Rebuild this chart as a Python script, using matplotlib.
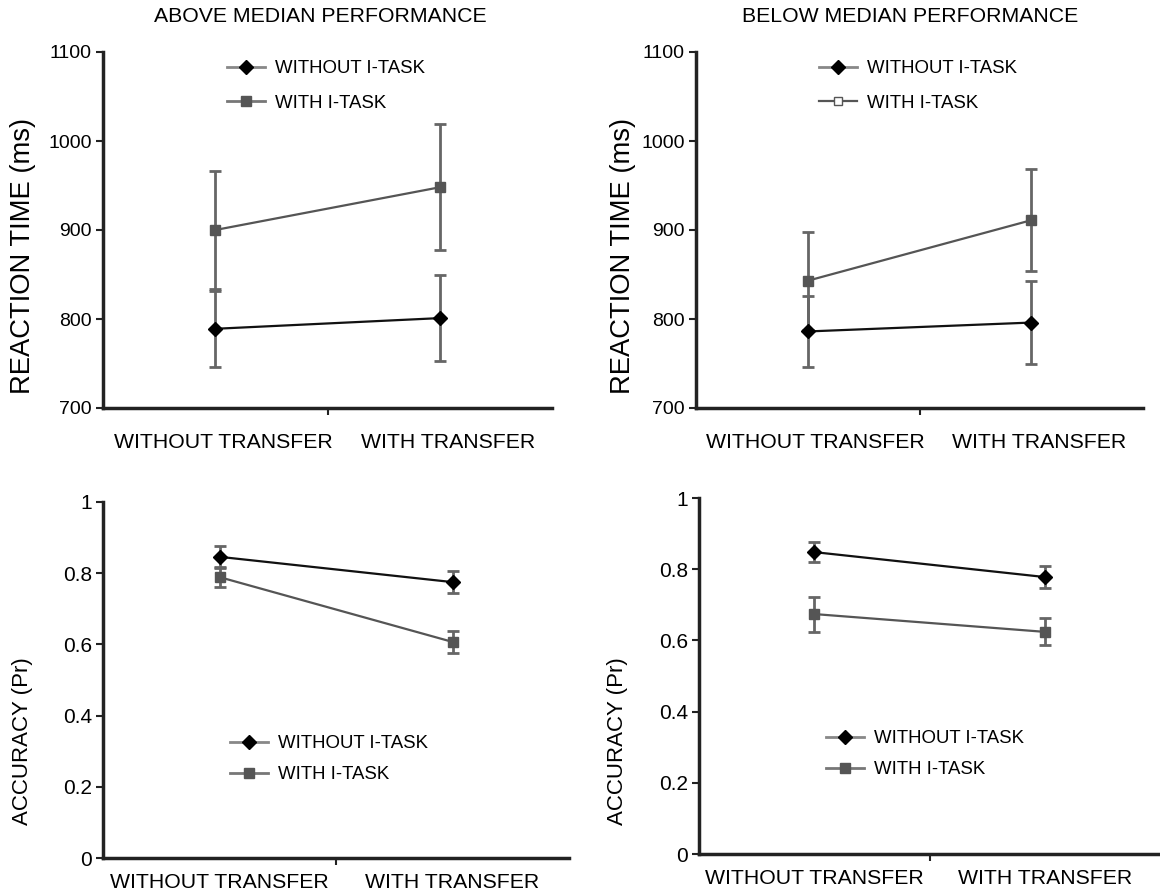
import matplotlib
matplotlib.use("Agg")
import matplotlib.pyplot as plt
from matplotlib.lines import Line2D
from matplotlib.transforms import ScaledTranslation

plt.rcParams['font.family'] = ['Liberation Sans', 'DejaVu Sans']

conditions = ["WITHOUT TRANSFER", "WITH TRANSFER"]
series_names = ["WITHOUT I-TASK", "WITH I-TASK"]

# reaction time (ms)
rt_above_without = [789, 801]
rt_above_without_err = [43, 48]
rt_above_with = [900, 948]
rt_above_with_err = [66, 71]
rt_below_without = [786, 796]
rt_below_without_err = [40, 47]
rt_below_with = [843, 911]
rt_below_with_err = [55, 57]

# accuracy (Pr)
acc_above_without = [0.846, 0.775]
acc_above_without_err = [0.030, 0.032]
acc_above_with = [0.789, 0.607]
acc_above_with_err = [0.028, 0.030]
acc_below_without = [0.848, 0.778]
acc_below_without_err = [0.028, 0.032]
acc_below_with = [0.674, 0.624]
acc_below_with_err = [0.049, 0.038]

W, H = 1160, 894
fig = plt.figure(figsize=(W / 100, H / 100), dpi=100)

TITLE_FS = 15.3
XLAB_FS = 15.3
LEG_FS = 13.4


def add_ax(left, right, top, bottom):
    return fig.add_axes([left / W, 1 - bottom / H, (right - left) / W, (bottom - top) / H])


xpos = [0.5, 1.5]
err_col = "#666666"
with_col = "#555555"


def draw(ax, without, without_err, with_, with_err, ylim, yticks, ylabels,
         label_off, tick_fs, shift_px=0):
    ax.errorbar(xpos, with_, yerr=with_err, fmt='none', ecolor=err_col,
                elinewidth=2, capsize=4, capthick=2, zorder=2)
    ax.errorbar(xpos, without, yerr=without_err, fmt='none', ecolor=err_col,
                elinewidth=2, capsize=4, capthick=2, zorder=2)
    ax.plot(xpos, with_, color=with_col, lw=1.6, marker='s', ms=7,
            mfc=with_col, mec=with_col, zorder=3)
    ax.plot(xpos, without, color='#111111', lw=1.6, marker='D', ms=7,
            mfc='black', mec='black', zorder=4)
    ax.set_xlim(0, 2)
    ax.set_ylim(*ylim)
    ax.set_yticks(yticks)
    ax.set_yticklabels(ylabels)
    ax.set_xticks([1])
    ax.set_xticklabels([""])
    for s in ['top', 'right']:
        ax.spines[s].set_visible(False)
    for s in ['left', 'bottom']:
        ax.spines[s].set_linewidth(2.5)
        ax.spines[s].set_color('#222222')
    ax.tick_params(axis='y', length=5, width=1.5, pad=3, colors='#222222',
                   labelcolor='black', labelsize=tick_fs)
    ax.tick_params(axis='x', length=5, width=1.5, colors='#222222')
    tr = ax.get_xaxis_transform() + ScaledTranslation(shift_px / 100, 0, fig.dpi_scale_trans)
    for x, lab in zip(xpos, conditions):
        ax.text(x, -label_off, lab, transform=tr,
                ha='center', va='center', fontsize=XLAB_FS)


def legend(ax, x, y, spacing, open_square=False):
    h1 = Line2D([], [], color='#888888', lw=2, marker='D', ms=7, mfc='black', mec='black')
    if open_square:
        h2 = Line2D([], [], color='#555555', lw=1.6, marker='s', ms=6, mfc='white', mec='#555555')
    else:
        h2 = Line2D([], [], color='#777777', lw=2, marker='s', ms=7, mfc=with_col, mec=with_col)
    ax.legend([h1, h2], series_names, loc='upper left',
              bbox_to_anchor=(x / W, 1 - y / H), bbox_transform=fig.transFigure,
              frameon=False, borderpad=0, borderaxespad=0, handlelength=2.05,
              handletextpad=0.54, labelspacing=spacing, fontsize=LEG_FS)


rt_ticks = [700, 800, 900, 1000, 1100]
acc_ticks = [0, 0.2, 0.4, 0.6, 0.8, 1.0]
acc_labels = ["0", "0.2", "0.4", "0.6", "0.8", "1"]

ax1 = add_ax(103, 552, 52, 408)
draw(ax1, rt_above_without, rt_above_without_err, rt_above_with, rt_above_with_err,
     (700, 1100), rt_ticks, [str(t) for t in rt_ticks], 35 / 356, 14, shift_px=8)
legend(ax1, 227, 60, 0.96)

ax2 = add_ax(696, 1143, 52, 408)
draw(ax2, rt_below_without, rt_below_without_err, rt_below_with, rt_below_with_err,
     (700, 1100), rt_ticks, [str(t) for t in rt_ticks], 35 / 356, 14, shift_px=8)
legend(ax2, 819, 60, 0.96, open_square=True)

ax3 = add_ax(103, 569, 502, 858)
draw(ax3, acc_above_without, acc_above_without_err, acc_above_with, acc_above_with_err,
     (0, 1), acc_ticks, acc_labels, 25 / 356, 15)
legend(ax3, 230, 735, 0.76)

ax4 = add_ax(699, 1160, 498, 854)
draw(ax4, acc_below_without, acc_below_without_err, acc_below_with, acc_below_with_err,
     (0, 1), acc_ticks, acc_labels, 25 / 356, 15)
legend(ax4, 826, 730, 0.76)

fig.text(320 / W, 1 - 17 / H, "ABOVE MEDIAN PERFORMANCE", ha='center', va='center', fontsize=TITLE_FS)
fig.text(910 / W, 1 - 17 / H, "BELOW MEDIAN PERFORMANCE", ha='center', va='center', fontsize=TITLE_FS)

fig.text(23 / W, 1 - 256 / H, "REACTION TIME (ms)", rotation=90, ha='center', va='center', fontsize=19.7)
fig.text(623 / W, 1 - 256 / H, "REACTION TIME (ms)", rotation=90, ha='center', va='center', fontsize=19.7)
fig.text(23 / W, 1 - 741 / H, "ACCURACY (Pr)", rotation=90, ha='center', va='center', fontsize=16)
fig.text(617 / W, 1 - 741 / H, "ACCURACY (Pr)", rotation=90, ha='center', va='center', fontsize=16)

fig.savefig("out.png", dpi=100)
